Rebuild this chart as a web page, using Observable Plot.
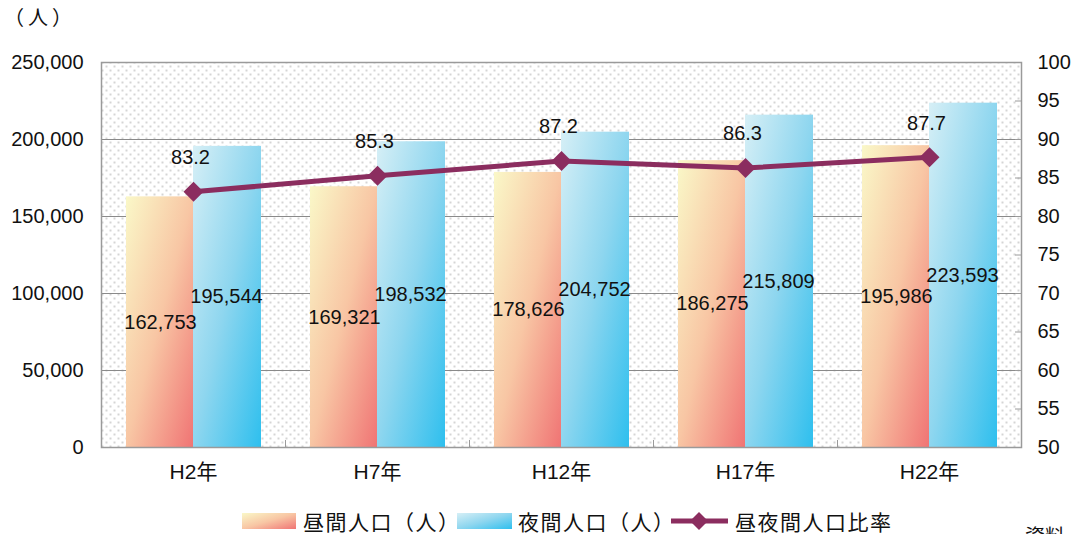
<!DOCTYPE html>
<html><head><meta charset="utf-8">
<script src="https://cdn.jsdelivr.net/npm/d3@7"></script>
<script src="https://cdn.jsdelivr.net/npm/@observablehq/plot@0.6"></script>
<style>
html,body{margin:0;padding:0;background:#fff;overflow:hidden;width:1080px;height:534px;}
body{position:relative;font-family:'Liberation Sans','Noto Sans CJK JP',sans-serif;color:#111;}
.abs{position:absolute;white-space:nowrap;}
#chart{position:absolute;left:0;top:0;}
.leg{font-family:'Noto Sans CJK JP',sans-serif;font-size:21px;line-height:24px;letter-spacing:1.5px;}
</style></head><body>
<div id="chart"></div>
<div class="abs" style="left:4px;top:5px;font-size:20px;line-height:24px;letter-spacing:4px;font-family:'Noto Sans CJK JP',sans-serif">（人）</div>
<div id="legend"></div>
<div class="abs" style="left:1025px;top:524px;font-size:20px;line-height:24px;font-family:'Noto Sans CJK JP',sans-serif">資料</div>
<script>
const years = ["H2年","H7年","H12年","H17年","H22年"];
const dayPop = [162753,169321,178626,186275,195986];
const nightPop = [195544,198532,204752,215809,223593];
const ratio = [83.2,85.3,87.2,86.3,87.7];
const leftTicks = [0,50000,100000,150000,200000,250000];
const rightTicks = [50,55,60,65,70,75,80,85,90,95,100];
const seriesNames = ["昼間人口（人）","夜間人口（人）","昼夜間人口比率"];

const rows = years.map((y,i)=>({year:y, day:dayPop[i], night:nightPop[i], ratio:ratio[i]}));
const toY = r => (r-50)*5000; // ratio axis 50–100 mapped onto 0–250,000
const fmt = d3.format(",");
const lineColor = "#8b2d5f";

const plot = Plot.plot({
  width:1080, height:500,
  marginLeft:101, marginRight:59, marginTop:62, marginBottom:53,
  style:{fontFamily:"'Liberation Sans','Noto Sans CJK JP',sans-serif", background:"transparent", color:"#111"},
  x:{type:"band", domain:years, padding:0},
  y:{domain:[0,250000]},
  marks:[
    Plot.frame({fill:"url(#dots)", stroke:"none"}),
    Plot.gridY(leftTicks, {stroke:"#8a8a8a", strokeOpacity:1}),
    Plot.barY(rows,{x:"year", y:"day", fill:"url(#gDay)", insetLeft:25, insetRight:92}),
    Plot.barY(rows,{x:"year", y:"night", fill:"url(#gNight)", insetLeft:92, insetRight:24}),
    Plot.frame({stroke:"#9a9a9a", strokeWidth:1.5}),
    Plot.axisY({anchor:"left", ticks:leftTicks, tickSize:0, tickPadding:18, tickFormat:fmt, fontSize:20, label:null}),
    Plot.axisY({anchor:"right", ticks:rightTicks.map(toY), tickSize:-7, tickPadding:23, tickFormat:v=>String(Math.round(50+v/5000)), fontSize:20, label:null, stroke:"#9a9a9a"}),
    Plot.axisX({anchor:"bottom", tickSize:0, tickPadding:17, fontSize:21, label:null}),
    Plot.axisX({anchor:"bottom", tickSize:-7, dx:92, fill:"none", label:null, stroke:"#9a9a9a"}),
    Plot.lineY(rows,{x:"year", y:d=>toY(d.ratio), stroke:lineColor, strokeWidth:5, strokeLinejoin:"round"}),
    Plot.dot(rows,{x:"year", y:d=>toY(d.ratio), symbol:"diamond2", r:9, fill:lineColor, stroke:"none"}),
    Plot.text(rows,{x:"year", y:d=>d.day/2, text:d=>fmt(d.day), dx:-33, fontSize:20, fill:"#111"}),
    Plot.text(rows,{x:"year", y:d=>d.night/2, text:d=>fmt(d.night), dx:33, fontSize:20, fill:"#111"}),
    Plot.text(rows,{x:"year", y:d=>toY(d.ratio), text:d=>d.ratio.toFixed(1), dx:-3, dy:-34, fontSize:20, fill:"#111"})
  ]
});

const svg = d3.select(plot);
const defs = svg.insert("defs", ":first-child");
const pat = defs.append("pattern").attr("id","dots").attr("patternUnits","userSpaceOnUse").attr("width",8).attr("height",8);
pat.append("rect").attr("width",8).attr("height",8).attr("fill","#fff");
pat.append("circle").attr("cx",2).attr("cy",2).attr("r",1).attr("fill","#c8c8c8");
pat.append("circle").attr("cx",6).attr("cy",6).attr("r",1).attr("fill","#c8c8c8");
function grad(id, stops){
  const g = defs.append("linearGradient").attr("id",id).attr("x1",0).attr("y1",0).attr("x2",1).attr("y2",1);
  stops.forEach(([o,c])=>g.append("stop").attr("offset",o).attr("stop-color",c));
}
const dayStops = [[0,"#faf8c8"],[0.5,"#f8c6a4"],[1,"#f07474"]];
const nightStops = [[0,"#d6eff6"],[0.5,"#8ed6ef"],[1,"#2ebfee"]];
grad("gDay", dayStops);
grad("gNight", nightStops);
document.getElementById("chart").appendChild(plot);

// legend
const css = s => "linear-gradient(to right bottom," + s.map(([o,c])=>c+" "+(o*100)+"%").join(",") + ")";
const leg = document.getElementById("legend");
leg.innerHTML =
  `<div class="abs" style="left:242px;top:513px;width:54px;height:16px;background:${css(dayStops)}"></div>
   <div class="abs leg" style="left:303px;top:509px">${seriesNames[0]}</div>
   <div class="abs" style="left:457px;top:513px;width:55px;height:16px;background:${css(nightStops)}"></div>
   <div class="abs leg" style="left:518px;top:509px">${seriesNames[1]}</div>
   <svg class="abs" style="left:671px;top:511px" width="58" height="20"><line x1="0" y1="10" x2="57" y2="10" stroke="${lineColor}" stroke-width="5"/><path d="M28,1 L37,10 L28,19 L19,10 Z" fill="${lineColor}"/></svg>
   <div class="abs leg" style="left:735px;top:509px">${seriesNames[2]}</div>`;
</script>
</body></html>
